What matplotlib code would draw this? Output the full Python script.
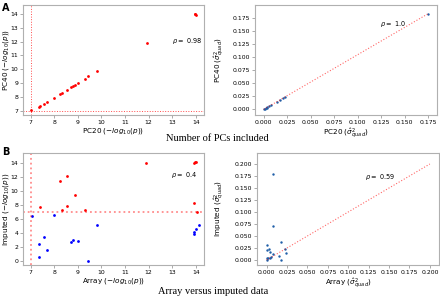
import matplotlib
matplotlib.use("Agg")
import matplotlib.pyplot as plt
import numpy as np

# -log10(p) values, PC20 vs PC40
pc20_p = [7.04, 7.34, 7.38, 7.55, 7.70, 8.01, 8.25, 8.32, 8.53, 8.70, 8.79, 8.90, 9.01,
          9.31, 9.45, 9.80, 11.92, 13.97, 14.01, 13.99]
pc40_p = [7.07, 7.26, 7.36, 7.53, 7.67, 7.96, 8.25, 8.32, 8.51, 8.73, 8.77, 8.87, 9.01,
          9.30, 9.49, 9.88, 11.91, 14.02, 13.95, 13.98]

# sigma quad, PC20 vs PC40
pc20_s = [0.0, 0.001, 0.002, 0.003, 0.004, 0.006, 0.008, 0.014, 0.017, 0.021, 0.023, 0.175]
pc40_s = [0.0, 0.001, 0.002, 0.003, 0.004, 0.006, 0.008, 0.014, 0.017, 0.021, 0.023, 0.183]

# array vs imputed -log10(p), split by significance of imputed value
arr_sig = [7.41, 8.25, 8.53, 8.32, 8.53, 8.90, 9.29, 11.88, 13.92, 13.97, 14.01, 13.94, 14.06]
imp_sig = [7.69, 11.42, 12.09, 7.17, 7.79, 9.36, 7.21, 13.90, 13.90, 14.05, 14.14, 8.31, 7.02]
arr_ns = [7.06, 7.37, 7.37, 7.55, 7.70, 8.01, 8.70, 8.79, 9.01, 9.43, 9.80, 13.94, 13.94, 14.03, 14.14]
imp_ns = [6.40, 2.44, 0.57, 3.39, 1.53, 6.55, 2.68, 2.91, 2.82, 0.0, 5.06, 4.16, 3.82, 4.49, 5.11]

# array vs imputed sigma quad
arr_s = [0.0073, 0.0073, 0.0176, 0.0004, 0.001, 0.003, 0.004, 0.0073, 0.0147, 0.0176,
         0.0224, 0.0233, 0.0004, 0.002, 0.004, 0.0004, 0.005]
imp_s = [0.180, 0.070, 0.038, 0.032, 0.0215, 0.022, 0.0167, 0.0125, 0.009, 0.0,
         0.0236, 0.015, 0.004, 0.004, 0.004, 0.0, 0.006]

rho = ["0.98", "1.0", "0.4", "0.59"]

tick_fs = 4.4
lab_fs = 5.2
spine_c = "#b0b0b0"


def style(ax, ylab_x):
    for s in ax.spines.values():
        s.set_color(spine_c)
        s.set_linewidth(0.8)
    ax.tick_params(labelsize=tick_fs, length=2, width=0.5, color="#888888", pad=1.5)
    ax.yaxis.set_label_coords(ylab_x, 0.5)


fig = plt.figure(figsize=(4.4, 2.98), dpi=100)

# A left
ax = fig.add_axes([0.052, 0.614, 0.4116, 0.369])
ax.scatter(pc20_p, pc40_p, s=4, color="red", linewidths=0)
ax.axvline(7, color="red", ls=":", lw=0.7, alpha=0.7)
ax.axhline(7, color="red", ls=":", lw=0.7, alpha=0.7)
ax.set_xlim(6.675, 14.35)
ax.set_ylim(6.71, 14.63)
ax.set_xticks(range(7, 15))
ax.set_yticks(range(7, 15))
ax.text(13, 12.05, r"$\rho = $ " + rho[0], fontsize=tick_fs + 0.3, va="center")
ax.set_xlabel(r"PC20 ($-log_{10}(p)$)", fontsize=lab_fs, labelpad=1)
ax.set_ylabel(r"PC40 ($-log_{10}(p)$)", fontsize=lab_fs)
style(ax, -0.068)

# A right
ax = fig.add_axes([0.5795, 0.614, 0.4136, 0.369])
ax.plot([0, pc20_s[-1]], [0, pc40_s[-1]], color="red", ls=":", lw=0.8, alpha=0.6)
ax.scatter(pc20_s, pc40_s, s=3, color="#1f5fa8", linewidths=0)
ax.set_xlim(-0.0093, 0.1842)
ax.set_ylim(-0.0109, 0.1993)
ax.set_xticks(np.arange(0, 0.176, 0.025))
ax.set_yticks(np.arange(0, 0.176, 0.025))
ax.text(0.124, 0.163, r"$\rho = $ " + rho[1], fontsize=tick_fs + 0.3, va="center")
ax.set_xlabel(r"PC20 ($\hat{\sigma}^2_{quad}$)", fontsize=lab_fs, labelpad=1)
ax.set_ylabel(r"PC40 ($\hat{\sigma}^2_{quad}$)", fontsize=lab_fs)
style(ax, -0.155)

# B left
ax = fig.add_axes([0.052, 0.111, 0.4116, 0.3756])
ax.scatter(arr_sig, imp_sig, s=4, color="red", linewidths=0)
ax.scatter(arr_ns, imp_ns, s=4, color="blue", linewidths=0)
ax.axvline(7, color="red", ls=":", lw=1.3, alpha=0.45)
ax.axhline(7, color="red", ls=":", lw=1.3, alpha=0.45)
ax.set_xlim(6.675, 14.35)
ax.set_ylim(-0.62, 15.4)
ax.set_xticks(range(7, 15))
ax.set_yticks(range(0, 15, 2))
ax.text(12.95, 12.3, r"$\rho = $ " + rho[2], fontsize=tick_fs + 0.3, va="center")
ax.set_xlabel(r"Array ($-log_{10}(p)$)", fontsize=lab_fs, labelpad=1)
ax.set_ylabel(r"Imputed ($-log_{10}(p)$)", fontsize=lab_fs)
style(ax, -0.068)

# B right
ax = fig.add_axes([0.584, 0.111, 0.4136, 0.3756])
ax.plot([0, 0.2], [0, 0.2], color="red", ls=":", lw=0.8, alpha=0.6)
ax.scatter(arr_s, imp_s, s=3, color="#1f5fa8", linewidths=0)
ax.set_xlim(-0.0119, 0.2111)
ax.set_ylim(-0.0104, 0.2229)
ax.set_xticks(np.arange(0, 0.201, 0.025))
ax.set_yticks(np.arange(0, 0.201, 0.025))
ax.text(0.120, 0.173, r"$\rho = $ " + rho[3], fontsize=tick_fs + 0.3, va="center")
ax.set_xlabel(r"Array ($\hat{\sigma}^2_{quad}$)", fontsize=lab_fs, labelpad=1)
ax.set_ylabel(r"Imputed ($\hat{\sigma}^2_{quad}$)", fontsize=lab_fs)
style(ax, -0.165)

fig.text(0.493, 1 - 139 / 298, "Number of PCs included", ha="center", va="center",
         fontsize=7.5, family="Liberation Serif")
fig.text(0.485, 1 - 291 / 298, "Array versus imputed data", ha="center", va="center",
         fontsize=7.5, family="Liberation Serif")
fig.text(0.005, 0.99, "A", fontsize=7, fontweight="bold", va="top")
fig.text(0.005, 1 - 147 / 298, "B", fontsize=7, fontweight="bold", va="top")

fig.savefig("out.png", dpi=100)
